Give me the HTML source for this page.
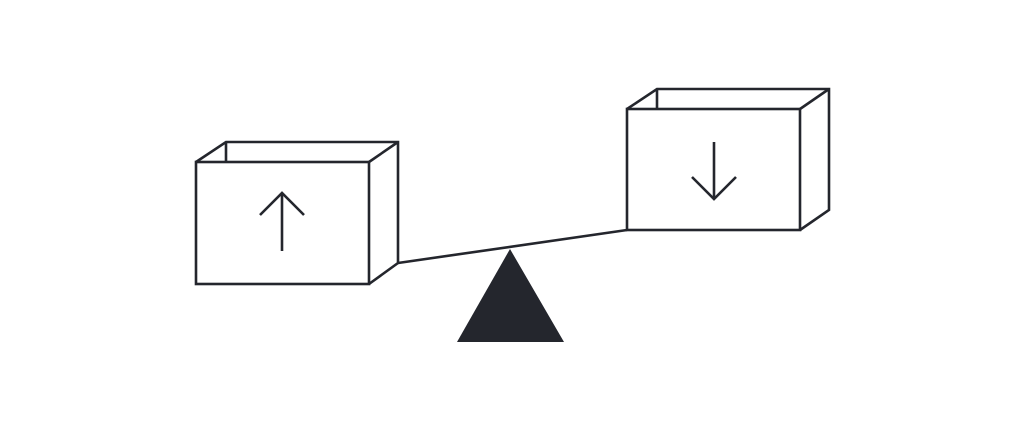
<!DOCTYPE html>
<html><head><style>html,body{margin:0;padding:0;background:#fff}</style></head>
<body>
<svg width="1024" height="420" viewBox="0 0 1024 420" xmlns="http://www.w3.org/2000/svg">
<g fill="none" stroke="#24262d" stroke-width="2.6" stroke-linejoin="miter" stroke-linecap="butt">
<!-- left box -->
<rect x="196" y="162" width="173" height="122"/>
<polyline points="196,162 226,142 398,142 398,263 369,284"/>
<line x1="369" y1="162" x2="398" y2="142"/>
<line x1="226" y1="142" x2="226" y2="162"/>
<line x1="282" y1="193" x2="282" y2="251"/>
<polyline points="260,215 282,193 304,215"/>
<!-- right box -->
<rect x="627" y="109" width="173" height="121"/>
<polyline points="627,109 657,89 829,89 829,210 800,230"/>
<line x1="800" y1="109" x2="829" y2="89"/>
<line x1="657" y1="89" x2="657" y2="109"/>
<line x1="714" y1="142" x2="714" y2="199"/>
<polyline points="692,177 714,199 736,177"/>
<!-- beam -->
<line x1="398" y1="263" x2="627" y2="230"/>
</g>
<polygon points="510,249 457,342 564,342" fill="#24262d"/>
</svg>
</body></html>
